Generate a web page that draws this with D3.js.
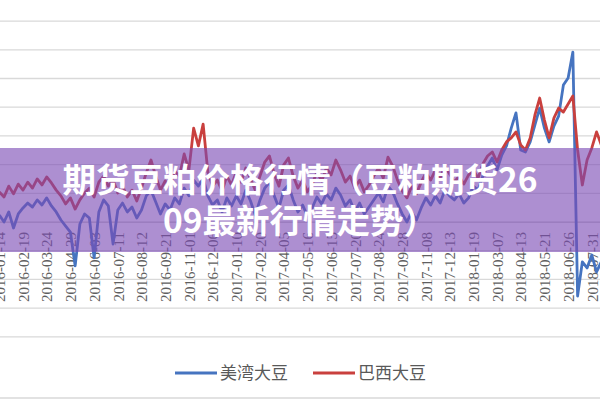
<!DOCTYPE html>
<html><head><meta charset="utf-8">
<script src="https://cdn.jsdelivr.net/npm/d3@7"></script>
<style>html,body{margin:0;padding:0;background:#fff;} svg{display:block;}</style>
</head><body>
<svg id="chart" width="600" height="400"></svg>
<script>
const tickLabels = ["2016-01-14","2016-02-19","2016-03-24","2016-04-29","2016-06-03","2016-07-11","2016-08-12","2016-09-21","2016-11-01","2016-12-06","2017-01-10","2017-02-20","2017-04-05","2017-05-16","2017-06-15","2017-07-20","2017-08-24","2017-09-28","2017-11-08","2017-12-13","2018-01-19","2018-03-07","2018-04-13","2018-05-21","2018-06-26","2018-07-31"];
const seriesNames = ["美湾大豆", "巴西大豆"];
const usGulf = [24,0,35,-21,28,49,66,52,77,59,84,56,35,7,-14,-35,-153,-7,28,14,-125,35,77,56,-77,42,66,35,52,14,42,91,111,70,28,63,42,84,63,118,91,146,125,153,91,59,77,35,84,56,91,63,111,73,24,77,118,139,91,49,111,129,77,35,59,21,49,87,63,98,77,118,94,56,77,35,66,28,52,77,101,70,125,105,63,28,0,35,7,49,84,59,91,66,111,91,77,98,66,84,125,111,160,195,223,181,233,265,327,380,251,244,279,338,397,327,279,334,369,477,502,592,-258,-139,-160,-115,-174,-139];
const brazil = [105,87,125,98,132,111,139,118,150,129,157,136,111,91,63,84,45,77,101,118,87,139,160,125,146,101,125,87,111,73,118,171,216,160,111,143,125,178,160,237,181,327,265,341,174,125,146,108,160,129,174,139,188,150,111,160,209,230,167,125,199,223,160,118,146,105,132,174,143,188,164,216,181,139,160,118,146,105,129,160,188,153,226,195,146,108,84,125,98,139,171,146,181,153,195,167,139,160,132,164,181,153,202,230,244,209,251,279,293,314,268,251,293,373,432,355,293,362,397,383,411,439,251,129,216,258,314,268];
const gridValues = [-400,-300,-200,-100,0,100,200,300,400,500,600,700];
const titleLines = ["期货豆粕价格行情（豆粕期货26", "09最新行情走势）"];
const colors = ["#4674c0", "#c9403e"];

const svg = d3.select("#chart");
svg.append("rect").attr("width",600).attr("height",400).attr("fill","#ffffff");

const x = d3.scaleLinear().domain([0, usGulf.length - 1]).range([-0.7, 601.3]);
const y = d3.scaleLinear().domain([-400, 700]).range([336.8, 21.1]);

// gridlines
svg.append("g").selectAll("line").data(gridValues).join("line")
  .attr("x1",0).attr("x2",600)
  .attr("y1",d=>y(d)).attr("y2",d=>y(d))
  .attr("stroke","#d9d9d9").attr("stroke-width",1.3);

// category axis at zero
const axis = d3.axisBottom(x)
  .tickValues(tickLabels.map((d,i)=>i*5))
  .tickFormat((d,i)=>tickLabels[i])
  .tickSize(0);
const gx = svg.append("g").attr("transform",`translate(0,${y(0)})`).call(axis);
gx.select(".domain").attr("stroke","#d0d0d0");
gx.selectAll("text")
  .attr("font-family","'Liberation Serif', serif")
  .attr("font-size",15)
  .attr("fill","#5f5f5f")
  .attr("text-anchor","end")
  .attr("transform","rotate(-90)")
  .attr("x",-10).attr("y",0).attr("dy","0.35em");

// lines
const line = d3.line().x((d,i)=>x(i)).y(d=>y(d)).curve(d3.curveLinear);
[usGulf, brazil].forEach((s,k)=>{
  svg.append("path").datum(s)
    .attr("d",line)
    .attr("fill","none")
    .attr("stroke",colors[k])
    .attr("stroke-width",2.8)
    .attr("stroke-linejoin","round");
});

// purple banner
svg.append("rect").attr("x",0).attr("y",148).attr("width",600).attr("height",104)
  .attr("fill","#7b4bb5").attr("opacity",0.62);
svg.append("g").selectAll("text").data(titleLines).join("text")
  .attr("x",300).attr("y",(d,i)=>192 + i*41)
  .attr("text-anchor","middle")
  .attr("font-family","'Noto Sans CJK SC', sans-serif")
  .attr("font-weight",700)
  .attr("font-size",33.5)
  .attr("fill","#ffffff")
  .text(d=>d);

// legend
const leg = svg.append("g");
const legX = [175, 313];
seriesNames.forEach((n,k)=>{
  leg.append("line").attr("x1",legX[k]).attr("x2",legX[k]+42)
    .attr("y1",373).attr("y2",373)
    .attr("stroke",colors[k]).attr("stroke-width",3);
  leg.append("text").attr("x",legX[k]+45).attr("y",373).attr("dy","0.35em")
    .attr("font-family","'Noto Sans CJK SC', sans-serif")
    .attr("font-size",17).attr("fill","#595959").text(n);
});

// bottom border
svg.append("line").attr("x1",0).attr("x2",600).attr("y1",398).attr("y2",398)
  .attr("stroke","#d9d9d9").attr("stroke-width",1.3);
</script>
</body></html>
